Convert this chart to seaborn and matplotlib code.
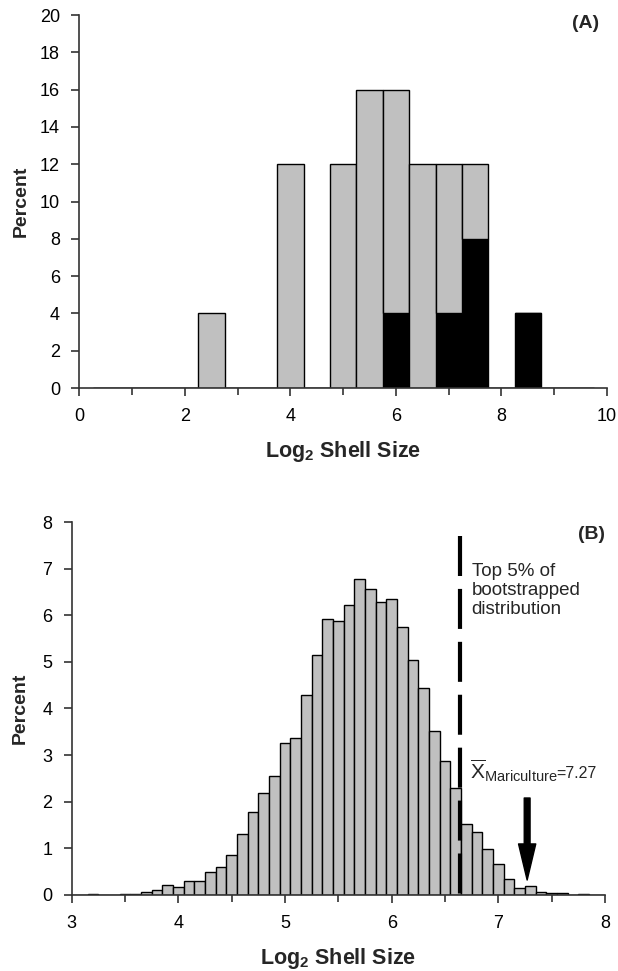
import pandas as pd
import matplotlib
matplotlib.use("Agg")
import matplotlib.pyplot as plt
from matplotlib.ticker import MultipleLocator
import seaborn as sns

# Panel A: percent of shells per 0.5 log2 size class
A_SIZE = [2.5, 4.0, 5.0, 5.5, 6.0, 6.5, 7.0, 7.5, 8.5]
A_OTHER = [4, 12, 12, 16, 12, 12, 8, 4, 0]
A_MARICULTURE = [0, 0, 0, 0, 4, 0, 4, 8, 4]

# Panel B: bootstrapped distribution, percent per 0.1 log2 size class
B_SIZE = [3.2, 3.5, 3.6, 3.7, 3.8, 3.9, 4.0, 4.1, 4.2, 4.3, 4.4, 4.5, 4.6,
          4.7, 4.8, 4.9, 5.0, 5.1, 5.2, 5.3, 5.4, 5.5, 5.6, 5.7, 5.8, 5.9,
          6.0, 6.1, 6.2, 6.3, 6.4, 6.5, 6.6, 6.7, 6.8, 6.9, 7.0, 7.1, 7.2,
          7.3, 7.4, 7.5, 7.6, 7.7, 7.8, 7.9]
B_PERCENT = [0.02, 0.02, 0.03, 0.06, 0.11, 0.21, 0.18, 0.31, 0.30, 0.50,
             0.59, 0.86, 1.30, 1.79, 2.19, 2.56, 3.25, 3.37, 4.28, 5.14,
             5.93, 5.88, 6.21, 6.77, 6.57, 6.29, 6.35, 5.75, 5.05, 4.45,
             3.52, 2.88, 2.29, 1.53, 1.36, 0.98, 0.67, 0.35, 0.15, 0.20,
             0.06, 0.05, 0.04, 0.01, 0.03, 0.01]

TOP5_CUTOFF = 6.64
MARICULTURE_MEAN = 7.27

GRAY = "#c0c0c0"

sns.set_style("ticks")
plt.rcParams["font.family"] = ["Liberation Sans", "DejaVu Sans"]
plt.rcParams["mathtext.fontset"] = "custom"
plt.rcParams["mathtext.rm"] = "Liberation Sans"
plt.rcParams["mathtext.it"] = "Liberation Sans:italic"
plt.rcParams["mathtext.bf"] = "Liberation Sans:bold"
plt.rcParams["axes.edgecolor"] = "#333333"
plt.rcParams["axes.linewidth"] = 1.2
plt.rcParams["xtick.color"] = "#333333"
plt.rcParams["ytick.color"] = "#333333"
plt.rcParams["xtick.labelcolor"] = "black"
plt.rcParams["ytick.labelcolor"] = "black"

fig = plt.figure(figsize=(6.18, 9.71), dpi=100)
ax_a = fig.add_axes([0.1286, 0.6004, 0.8536, 0.3841])
ax_b = fig.add_axes([0.116, 0.0783, 0.863, 0.3841])

# --- Panel A ---
df_a = pd.DataFrame({
    "size": A_SIZE + A_SIZE,
    "percent": A_OTHER + A_MARICULTURE,
    "group": ["Other"] * len(A_SIZE) + ["Mariculture"] * len(A_SIZE),
})
sns.histplot(data=df_a, x="size", weights="percent", hue="group",
             hue_order=["Other", "Mariculture"], multiple="stack",
             binwidth=0.5, binrange=(0.25, 9.75),
             palette={"Other": GRAY, "Mariculture": "black"},
             alpha=1, edgecolor="black", linewidth=1, legend=False, ax=ax_a)
ax_a.set_xlim(0, 10)
ax_a.set_ylim(0, 20)
ax_a.xaxis.set_major_locator(MultipleLocator(2))
ax_a.xaxis.set_minor_locator(MultipleLocator(1))
ax_a.yaxis.set_major_locator(MultipleLocator(2))
ax_a.text(0.985, 0.999, "(A)", transform=ax_a.transAxes, ha="right",
          va="top", fontsize=14, fontweight="bold")

# --- Panel B ---
sns.histplot(x=B_SIZE, weights=B_PERCENT, binwidth=0.1, binrange=(2.95, 8.05),
             color=GRAY, alpha=1, edgecolor="black", linewidth=1, ax=ax_b)
ax_b.set_xlim(3, 8)
ax_b.set_ylim(0, 8)
ax_b.xaxis.set_major_locator(MultipleLocator(1))
ax_b.xaxis.set_minor_locator(MultipleLocator(0.5))
ax_b.yaxis.set_major_locator(MultipleLocator(1))

ax_b.plot([TOP5_CUTOFF, TOP5_CUTOFF], [7.69, 0], color="black", lw=3,
          dashes=(9.6, 3.1), solid_capstyle="butt", dash_capstyle="butt")
ax_b.text(6.75, 7.13, "Top 5% of\nbootstrapped\ndistribution", ha="left",
          va="top", fontsize=13.5, linespacing=1.16)
ax_b.text(6.73, 2.5, r"$\overline{\mathrm{X}}_{\mathrm{Mariculture}}$",
          ha="left", va="baseline", fontsize=15)
ax_b.text(7.545, 2.5, "=7.27", ha="left", va="baseline", fontsize=11.5)
ax_b.annotate("", xy=(MARICULTURE_MEAN, 0.32), xytext=(MARICULTURE_MEAN, 2.08),
              arrowprops=dict(arrowstyle="simple,head_length=1.3,head_width=0.62,tail_width=0.21",
                              color="black", mutation_scale=20,
                              shrinkA=0, shrinkB=0))
ax_b.text(1.0, 0.99, "(B)", transform=ax_b.transAxes, ha="right",
          va="top", fontsize=14, fontweight="bold")

for ax in (ax_a, ax_b):
    sns.despine(ax=ax)
    ax.set_xlabel(r"Log$_\mathbf{2}$ Shell Size", fontsize=15.5,
                  fontweight="bold")
    ax.set_ylabel("Percent", fontsize=14, fontweight="bold")
    ax.xaxis.set_label_coords(0.5, -0.137)
    ax.tick_params(axis="both", which="major", labelsize=13, length=6,
                   width=1.2, direction="out")
    ax.tick_params(axis="x", which="major", pad=8.5)
    ax.tick_params(axis="y", which="major", pad=8)
    ax.tick_params(axis="x", which="minor", length=5, width=1.2,
                   direction="out")
    ax.tick_params(axis="y", which="minor", length=0)

ax_a.yaxis.set_label_coords(-0.094, 0.5)
ax_b.yaxis.set_label_coords(-0.080, 0.5)

fig.savefig("out.png", dpi=100)
plt.close(fig)
